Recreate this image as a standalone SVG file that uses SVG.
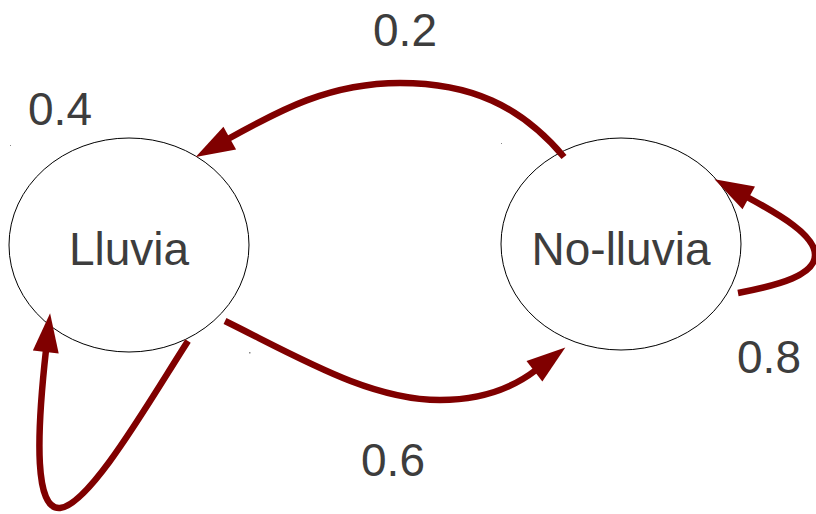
<svg xmlns="http://www.w3.org/2000/svg" width="816" height="514" viewBox="0 0 816 514">
<style>
.node{fill:#ffffff;stroke:#000000;stroke-width:1}
.lbl{font-family:"Liberation Sans",Arial,sans-serif;font-size:46px;fill:#3d3d3d;text-anchor:middle}
.edge{fill:none;stroke:#800000;stroke-width:6.5;marker-end:url(#ah)}
.dot{fill:#888888}
</style>
<defs>
<marker id="ah" markerUnits="userSpaceOnUse" markerWidth="40" markerHeight="30" refX="0" refY="0" orient="auto" overflow="visible">
<path d="M-2,-13 L37,0 L-2,13 Z" fill="#800000"/>
</marker>
</defs>
<rect width="816" height="514" fill="#ffffff"/>
<rect class="dot" x="10" y="145" width="1" height="1"/>
<rect class="dot" x="501" y="143" width="1" height="1"/>
<rect class="dot" x="249" y="352" width="1.5" height="1.5"/>
<g id="lluvia">
<ellipse class="node" cx="129" cy="245" rx="120" ry="107"/>
<text class="lbl" x="129" y="265">Lluvia</text>
</g>
<g id="no-lluvia">
<ellipse class="node" cx="621" cy="244" rx="120" ry="106"/>
<text class="lbl" x="621" y="265">No-lluvia</text>
</g>
<g id="connectors">
<path class="edge" d="M564,157 C520,105 470,83 400,83 C330,83 280,110 228,139"/>
<path class="edge" d="M225,321 C300,358 370,400 440,400 C480,400 510,390 536,370"/>
<path class="edge" d="M188,341 C150,400 90,505 60,508 C35,510 36,440 46,350"/>
<path class="edge" d="M738,293 C780,285 815,275 815,255 C815,235 780,215 747,197"/>
</g>
<g id="labels">
<text class="lbl" x="60" y="125">0.4</text>
<text class="lbl" x="405" y="46">0.2</text>
<text class="lbl" x="393" y="476">0.6</text>
<text class="lbl" x="769" y="373">0.8</text>
</g>
</svg>
